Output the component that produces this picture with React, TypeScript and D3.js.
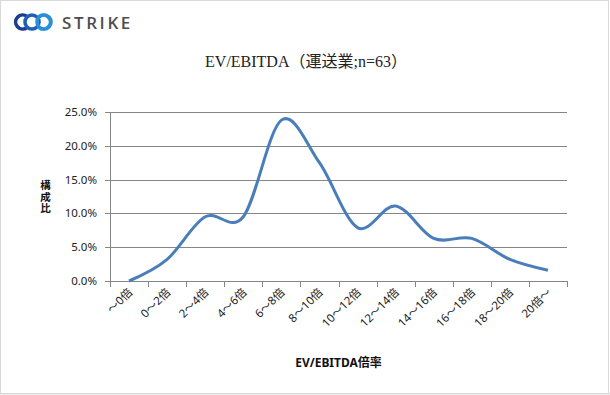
import React from "react";
import * as d3 from "d3";

// EV/EBITDA distribution, transport industry (n=63)
const categories = ["～0倍", "0～2倍", "2～4倍", "4～6倍", "6～8倍", "8～10倍", "10～12倍", "12～14倍", "14～16倍", "16～18倍", "18～20倍", "20倍～"];
const shares = [0, 0.032, 0.095, 0.095, 0.238, 0.175, 0.079, 0.111, 0.063, 0.063, 0.032, 0.016];
const yTicks = [0, 0.05, 0.1, 0.15, 0.2, 0.25];

const W = 610;
const H = 395;
const margin = { top: 112, right: 43, bottom: 114, left: 110 };

export default function App() {
  const x = d3
    .scaleBand<string>()
    .domain(categories)
    .range([margin.left, W - margin.right]);
  const y = d3
    .scaleLinear()
    .domain([0, 0.25])
    .range([H - margin.bottom, margin.top]);

  const line = d3
    .line<number>()
    .x((_, i) => x(categories[i])! + x.bandwidth() / 2)
    .y((d) => y(d))
    .curve(d3.curveCatmullRom.alpha(0));

  const fmt = d3.format(".1%");
  const sans = "'Noto Sans', 'Noto Sans CJK JP', sans-serif";
  const boundaries = categories.map((c) => x(c)!).concat([x.range()[1]]);

  return (
    <svg
      width={W}
      height={H}
      style={{ position: "absolute", left: 0, top: 0, background: "#fff" }}
    >
      {/* frame */}
      <rect x={0.5} y={0.5} width={W - 2} height={H - 2} fill="none" stroke="#d9d9d9" />
      <line x1={0} x2={W} y1={H - 1} y2={H - 1} stroke="#d9d9d9" />

      {/* logo */}
      <g fill="none" strokeWidth={3.6}>
        <path d="M27,16.5 A7,7 0 1 0 27,27.5" stroke="#1e3d8f" />
        <circle cx={32} cy={22} r={7} stroke="#1f5fb5" />
        <path d="M39,16.5 A7,7 0 1 1 39,27.5" stroke="#2ea6df" />
        <circle cx={44} cy={22} r={7} stroke="#2b8fd6" />
      </g>
      <text
        x={62}
        y={28.5}
        fontFamily="'Open Sans', 'Noto Sans', sans-serif"
        fontWeight={600}
        fontSize={17}
        letterSpacing={2.6}
        fill="#4d4d4d"
      >
        STRIKE
      </text>

      {/* title */}
      <text
        x={306}
        y={67}
        textAnchor="middle"
        fontFamily="'Liberation Serif', 'Noto Sans CJK JP', serif"
        fontSize={16}
        fill="#222"
      >
        EV/EBITDA（運送業;n=63）
      </text>

      {/* grid + y axis */}
      {yTicks.map((t) => (
        <g key={t}>
          <line
            x1={margin.left - 5}
            x2={W - margin.right}
            y1={Math.round(y(t)) + 0.5}
            y2={Math.round(y(t)) + 0.5}
            stroke="#868686"
          />
          <text
            x={97}
            y={y(t) + 4}
            textAnchor="end"
            fontFamily={sans}
            fontSize={11.5}
            fill="#222"
          >
            {fmt(t)}
          </text>
        </g>
      ))}
      <line
        x1={margin.left + 0.5}
        x2={margin.left + 0.5}
        y1={y(0.25)}
        y2={y(0)}
        stroke="#868686"
      />

      {/* x axis ticks */}
      {boundaries.map((b, i) => (
        <line
          key={i}
          x1={Math.round(b) + 0.5}
          x2={Math.round(b) + 0.5}
          y1={y(0)}
          y2={y(0) + 6}
          stroke="#868686"
        />
      ))}
      {categories.map((c) => {
        const cx = x(c)! + x.bandwidth() / 2 + 4;
        const cy = y(0) + 12;
        return (
          <text
            key={c}
            x={cx}
            y={cy}
            textAnchor="end"
            transform={`rotate(-45 ${cx} ${cy})`}
            fontFamily={sans}
            fontSize={11.5}
            fill="#222"
          >
            {c}
          </text>
        );
      })}

      {/* y title, vertical */}
      <text
        x={45}
        y={180}
        style={{ writingMode: "vertical-rl" }}
        fontFamily={sans}
        fontWeight="bold"
        fontSize={10.5}
        letterSpacing={1}
        fill="#111"
      >
        構成比
      </text>

      {/* x title */}
      <text
        x={(margin.left + W - margin.right) / 2}
        y={367}
        textAnchor="middle"
        fontFamily={sans}
        fontWeight="bold"
        fontSize={12}
        fill="#111"
      >
        EV/EBITDA倍率
      </text>

      <path d={line(shares) ?? ""} fill="none" stroke="#4a7ebb" strokeWidth={3} />
    </svg>
  );
}
